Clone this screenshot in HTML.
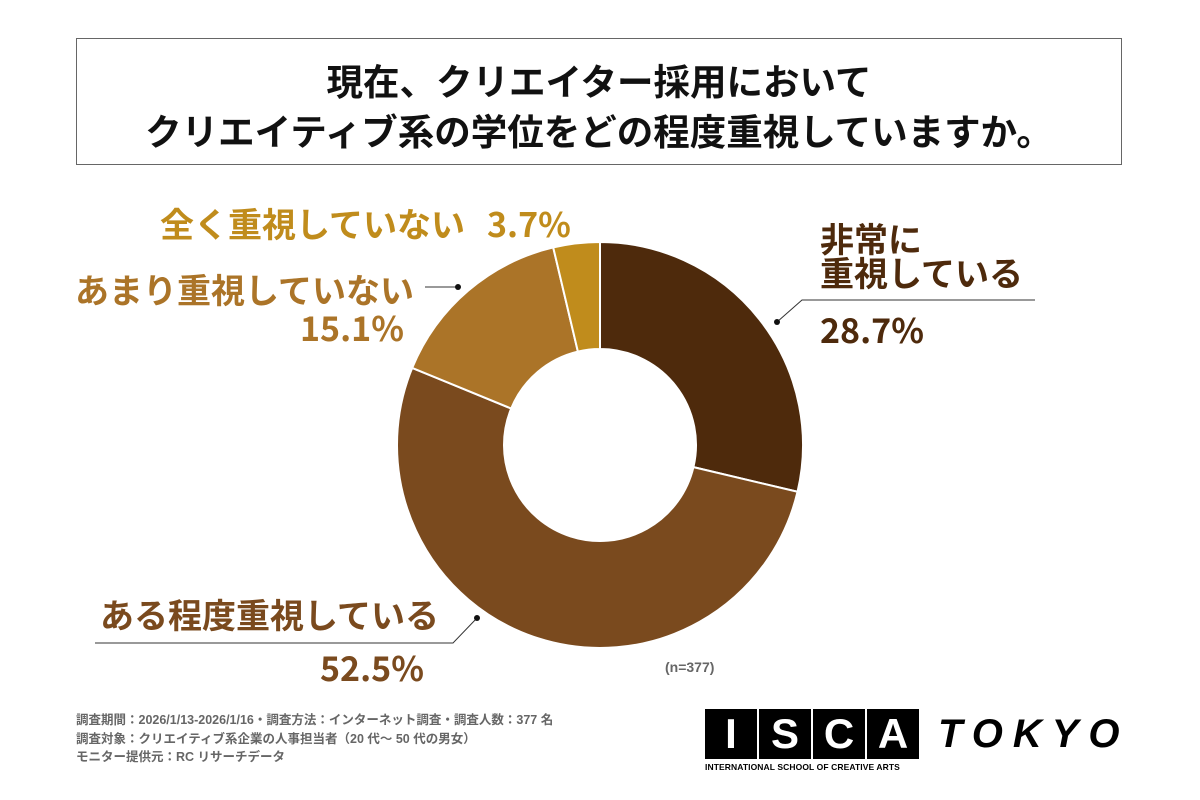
<!DOCTYPE html>
<html><head><meta charset="utf-8"><style>
body{margin:0;width:1200px;height:800px;background:#fff;position:relative;overflow:hidden;font-family:"Liberation Sans","Noto Sans CJK JP",sans-serif}
.a{position:absolute;white-space:nowrap}
.lbl{font-weight:bold;font-size:34px;line-height:1;font-family:"Noto Sans CJK JP",sans-serif}
</style></head><body>
<div class="a" style="left:76px;top:38px;width:1046px;height:127px;border:1.5px solid #666;text-align:center;font-weight:bold;font-size:36.5px;line-height:50px;color:#111;padding-top:16px;box-sizing:border-box;font-family:'Noto Sans CJK JP',sans-serif">
<div>現在、クリエイター採用において</div>
<div>クリエイティブ系の学位をどの程度重視していますか。</div></div>
<svg id="chart" width="1200" height="800" style="position:absolute;left:0;top:0"></svg>
<div class="a lbl" style="left:160px;top:206px;color:#c08c1c">全く重視していない<span style="margin-left:22px">3.7%</span></div>
<div class="a lbl" style="left:75px;top:272px;color:#ab7428">あまり重視していない</div>
<div class="a lbl" style="left:300px;top:310px;color:#ab7428">15.1%</div>
<div class="a lbl" style="left:820px;top:221px;color:#4e2a0c">非常に</div>
<div class="a lbl" style="left:820px;top:255px;color:#4e2a0c">重視している</div>
<div class="a lbl" style="left:820px;top:312px;color:#4e2a0c">28.7%</div>
<div class="a lbl" style="left:100px;top:597px;color:#7a4a1e">ある程度重視している</div>
<div class="a lbl" style="left:320px;top:650px;color:#7a4a1e">52.5%</div>
<div class="a" style="left:665px;top:659px;font-size:14px;font-weight:bold;color:#666">(n=377)</div>
<div class="a" style="left:76px;top:711px;font-size:12.5px;font-weight:bold;color:#666;line-height:18.5px">
<div>調査期間：2026/1/13-2026/1/16・調査方法：インターネット調査・調査人数：377 名</div>
<div>調査対象：クリエイティブ系企業の人事担当者（20 代～ 50 代の男女）</div>
<div>モニター提供元：RC リサーチデータ</div></div>
<div class="a" style="left:705px;top:709px">
<div style="display:flex;gap:2px">
<span style="width:52px;height:50px;background:#000;color:#fff;font-size:42px;font-weight:bold;text-align:center;line-height:50px">I</span>
<span style="width:52px;height:50px;background:#000;color:#fff;font-size:42px;font-weight:bold;text-align:center;line-height:50px">S</span>
<span style="width:52px;height:50px;background:#000;color:#fff;font-size:42px;font-weight:bold;text-align:center;line-height:50px">C</span>
<span style="width:52px;height:50px;background:#000;color:#fff;font-size:42px;font-weight:bold;text-align:center;line-height:50px">A</span>
</div>
<div style="font-size:8.5px;font-weight:bold;margin-top:3px;letter-spacing:0.1px">INTERNATIONAL SCHOOL OF CREATIVE ARTS</div></div>
<div class="a" style="left:938px;top:712px;font-size:40px;font-weight:bold;font-style:italic;letter-spacing:10px">TOKYO</div>
<script>
const categories=["非常に重視している","ある程度重視している","あまり重視していない","全く重視していない"];
const values=[28.7,52.5,15.1,3.7];
const colors=["#4e2a0c","#7a4a1e","#ab7428","#c08c1c"];
const svg=document.getElementById('chart');
const NS='http://www.w3.org/2000/svg';
const cx=600,cy=445,R=203,r=96;
const total=values.reduce((a,b)=>a+b,0);
function pt(a,rad){return [cx+rad*Math.sin(a),cy-rad*Math.cos(a)];}
let acc=0;
values.forEach((v,i)=>{
 const a0=acc/total*2*Math.PI; acc+=v; const a1=acc/total*2*Math.PI;
 const lg=(a1-a0)>Math.PI?1:0;
 const p0=pt(a0,R),p1=pt(a1,R),q1=pt(a1,r),q0=pt(a0,r);
 const p=document.createElementNS(NS,'path');
 p.setAttribute('d',`M${p0}A${R},${R} 0 ${lg} 1 ${p1}L${q1}A${r},${r} 0 ${lg} 0 ${q0}Z`);
 p.setAttribute('fill',colors[i]);p.setAttribute('stroke','#fff');p.setAttribute('stroke-width','2');
 
 
 svg.appendChild(p);
});
const leaders=[[[777,322],[802,300],[1035,300]],[[477,618],[453,643],[95,643]],[[458,287],[425,287]]];
leaders.forEach((l,i)=>{
 const pl=document.createElementNS(NS,'polyline');
 pl.setAttribute('points',l.map(p=>p.join(',')).join(' '));
 pl.setAttribute('fill','none');pl.setAttribute('stroke','#333');pl.setAttribute('stroke-width','1');
 
 
 svg.appendChild(pl);
 const c=document.createElementNS(NS,'circle');
 c.setAttribute('cx',l[0][0]);c.setAttribute('cy',l[0][1]);c.setAttribute('r','3');c.setAttribute('fill','#111');
 
 
 svg.appendChild(c);
});
</script>
</body></html>
